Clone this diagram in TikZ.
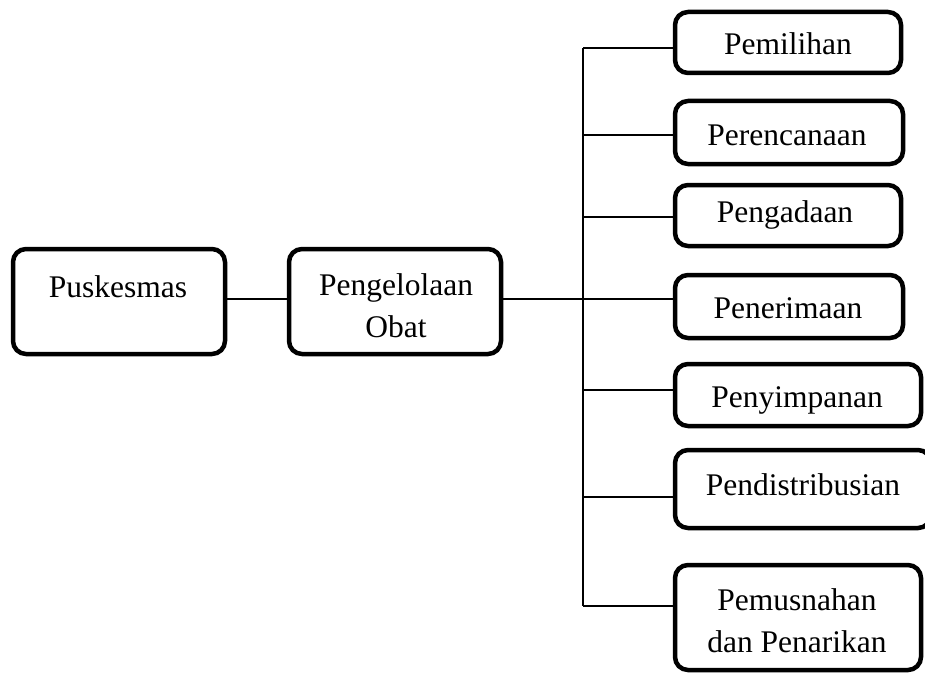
\documentclass[tikz,border=0pt]{standalone}
\usepackage{fontspec}
\setmainfont{Liberation Serif}
\begin{document}
\begin{tikzpicture}[x=1pt,y=-1pt,
  box/.style={draw=black,line width=4.5pt,rounded corners=13pt,inner sep=0pt,outer sep=0pt},
  lbl/.style={anchor=base,inner sep=0pt,font=\fontsize{31.5}{42}\selectfont,align=center},
  conn/.style={draw=black,line width=2pt}]
\useasboundingbox (0,0) rectangle (925,674);
% boxes (corner coordinates are stroke centres)
\node[box,minimum width=212pt,minimum height=105pt] (pusk) at (119,301.5) {};
\node[box,minimum width=212pt,minimum height=105pt] (peng) at (395,301.5) {};
\node[box,minimum width=226pt,minimum height=61pt] (b1) at (788,42.5) {};
\node[box,minimum width=228pt,minimum height=63pt] (b2) at (789,132.5) {};
\node[box,minimum width=226pt,minimum height=61pt] (b3) at (788,215.5) {};
\node[box,minimum width=228pt,minimum height=63pt] (b4) at (789,306.5) {};
\node[box,minimum width=246pt,minimum height=62pt] (b5) at (798,395) {};
\node[box,minimum width=256pt,minimum height=78pt] (b6) at (803,489) {};
\node[box,minimum width=246pt,minimum height=105pt] (b7) at (798,617.5) {};
% texts (multi-line nodes: base = last line)
\node[lbl] (tpusk) at (118,297) {Puskesmas};
\node[lbl] (tpeng) at (396,337) {Pengelolaan\\Obat};
\node[lbl] (t1) at (788,55) {Pemilihan};
\node[lbl] (t2) at (787,145) {Perencanaan};
\node[lbl] (t3) at (785,222) {Pengadaan};
\node[lbl] (t4) at (788,318) {Penerimaan};
\node[lbl] (t5) at (797,407) {Penyimpanan};
\node[lbl] (t6) at (803,495) {Pendistribusian};
\node[lbl] (t7) at (797,652) {Pemusnahan\\dan Penarikan};
% bus coordinates
\coordinate (j) at (583,299);
\coordinate (c1) at (583,48);
\coordinate (c2) at (583,135);
\coordinate (c3) at (583,217);
\coordinate (c4) at (583,299);
\coordinate (c5) at (583,390);
\coordinate (c6) at (583,497);
\coordinate (c7) at (583,606);
% connectors
\draw[conn] (pusk.east |- j) -- (peng.west |- j);
\draw[conn] (peng.east |- j) -- (j);
\draw[conn] (c1) -- (c7);
\draw[conn] (c1) -- (c1 -| b1.west);
\draw[conn] (c2) -- (c2 -| b2.west);
\draw[conn] (c3) -- (c3 -| b3.west);
\draw[conn] (c4) -- (c4 -| b4.west);
\draw[conn] (c5) -- (c5 -| b5.west);
\draw[conn] (c6) -- (c6 -| b6.west);
\draw[conn] (c7) -- (c7 -| b7.west);
\end{tikzpicture}
\end{document}
